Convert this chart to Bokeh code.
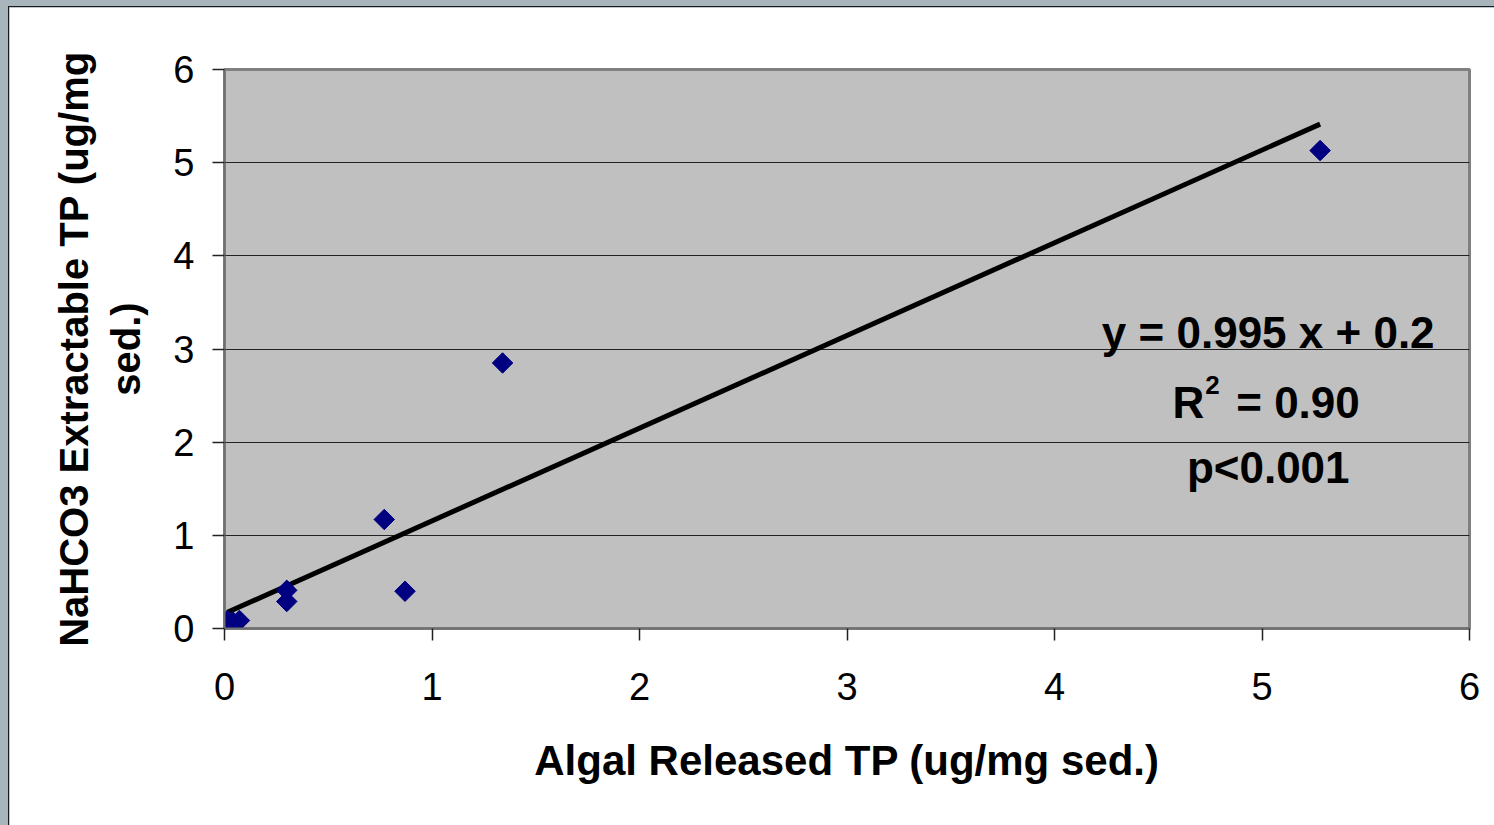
import numpy as np
from bokeh.plotting import figure
from bokeh.models import Range1d, FixedTicker, Label, GlobalInlineStyleSheet
from bokeh.embed import file_html
from bokeh.resources import INLINE

# ---- data ----
algal_tp = [0.014, 0.04, 0.072, 0.30, 0.30, 0.77, 0.87, 1.34, 5.28]
nahco3_tp = [0.086, 0.07, 0.086, 0.41, 0.29, 1.17, 0.40, 2.85, 5.13]
fit_slope = 0.995
fit_intercept = 0.16
x_ticks = [0, 1, 2, 3, 4, 5, 6]
y_ticks = [0, 1, 2, 3, 4, 5, 6]
x_title = "Algal Released TP (ug/mg sed.)"
y_title = "NaHCO3 Extractable TP (ug/mg\nsed.)"
eq_text = "y = 0.995 x + 0.2"
r2_text = "= 0.90"
p_text = "p<0.001"

FONT = "Liberation Sans"

p = figure(
    width=1485, height=818,
    x_range=Range1d(0, 6), y_range=Range1d(0, 6),
    output_backend="svg", toolbar_location=None,
    min_border_left=215, min_border_right=25,
    min_border_top=62, min_border_bottom=197,
    background_fill_color="#C0C0C0", border_fill_color="white",
)
p.stylesheets = [GlobalInlineStyleSheet(
    css="html,body{background:#A9B5BC;margin:0;padding:0;overflow:hidden;}"
        "body{padding:7px 0 0 9px;}")]
p.styles = {"outline": "1px solid #1a1a1a"}

p.outline_line_color = "#808080"
p.outline_line_width = 3

# grid
p.xgrid.grid_line_color = None
p.ygrid.grid_line_color = "#222222"
p.ygrid.grid_line_width = 1.2

for ax in (p.xaxis[0], p.yaxis[0]):
    ax.axis_line_color = "#707070"
    ax.axis_line_width = 2
    ax.major_tick_line_color = "#222222"
    ax.major_tick_line_width = 1.5
    ax.major_tick_out = 12
    ax.major_tick_in = 0
    ax.minor_tick_line_color = None
    ax.major_label_text_font = FONT
    ax.major_label_text_font_size = "38px"
    ax.major_label_text_color = "black"
    ax.axis_label_text_font = FONT
    ax.axis_label_text_font_style = "bold"
    ax.axis_label_text_color = "black"

p.xaxis.axis_label_text_font_size = "42px"
p.yaxis.axis_label_text_font_size = "40px"
p.xaxis.ticker = FixedTicker(ticks=x_ticks)
p.yaxis.ticker = FixedTicker(ticks=y_ticks)
p.xaxis.axis_label = x_title
p.yaxis.axis_label = y_title
p.xaxis.major_label_standoff = 32
p.yaxis.major_label_standoff = 18
p.xaxis.axis_label_standoff = 34
p.yaxis.axis_label_standoff = 22

# regression line
xs = np.array([min(algal_tp), max(algal_tp)])
p.line(xs, fit_slope * xs + fit_intercept, line_color="black", line_width=5)

# points (diamonds)
p.scatter(algal_tp, nahco3_tp, marker="square", angle=np.pi / 4, size=14.5,
          fill_color="#000080", line_color="#000080")

# equation annotation
eq_x = 5.03
eq_y = [3.18, 2.43, 1.73]
common = dict(text_baseline="alphabetic", text_font=FONT,
              text_font_style="bold", text_color="black")

p.add_layout(Label(x=eq_x, y=eq_y[0], text=eq_text, text_align="center",
                   text_font_size="44px", **common))
# R^2 line built from pieces so the exponent is a real superscript
p.add_layout(Label(x=eq_x, y=eq_y[1], text="R", text_align="right",
                   x_offset=-64, text_font_size="44px", **common))
p.add_layout(Label(x=eq_x, y=eq_y[1], text="2", text_align="left",
                   x_offset=-63, y_offset=17, text_font_size="26px", **common))
p.add_layout(Label(x=eq_x, y=eq_y[1], text=r2_text, text_align="left",
                   x_offset=-32, text_font_size="44px", **common))
p.add_layout(Label(x=eq_x, y=eq_y[2], text=p_text, text_align="center",
                   text_font_size="44px", **common))

open("out.html", "w").write(file_html(p, INLINE))
